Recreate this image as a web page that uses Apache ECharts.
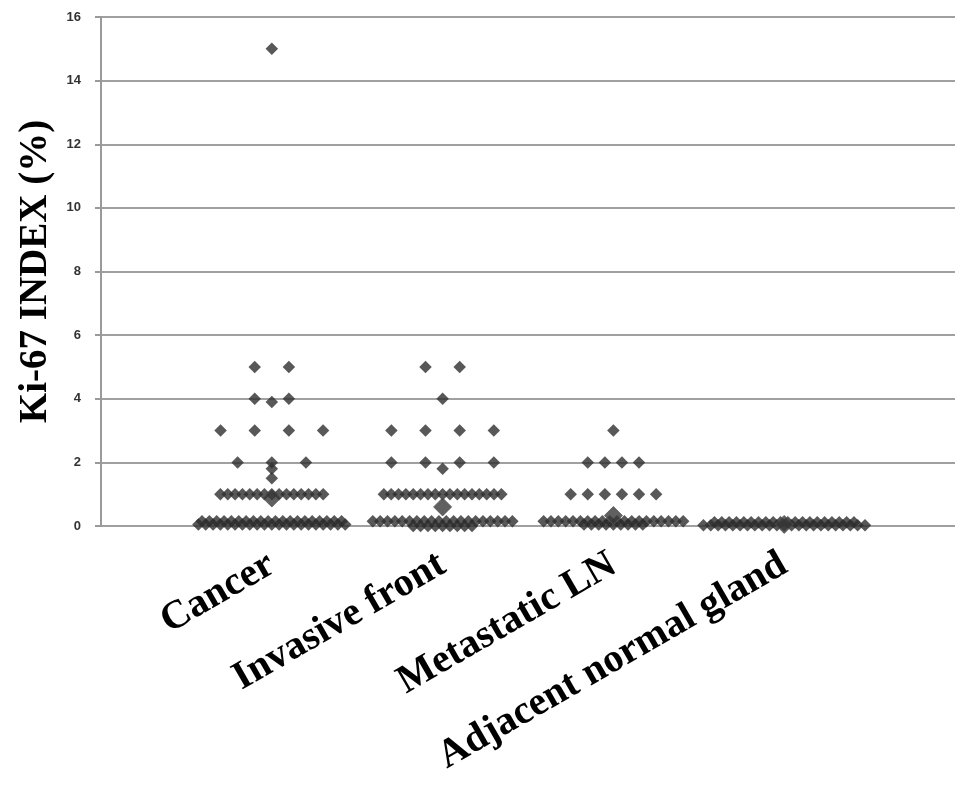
<!DOCTYPE html>
<html>
<head>
<meta charset="utf-8">
<script src="https://cdn.jsdelivr.net/npm/echarts@6/dist/echarts.min.js"></script>
<style>
html,body{margin:0;padding:0;background:#fff;}
#chart{width:969px;height:788px;}
</style>
</head>
<body>
<div id="chart"></div>
<script>
// ---- data ----
const categories = ['Cancer', 'Invasive front', 'Metastatic LN', 'Adjacent normal gland'];
const categoryPositions = [1, 2, 3, 4];
const yTickLabels = ['0', '2', '4', '6', '8', '10', '12', '14', '16'];

const cancerValues = [
  15,
  5, 5,
  4, 4, 3.9,
  3, 3, 3, 3,
  2, 2, 2,
  1.8, 1.5,
  1, 1, 1, 1, 1, 1, 1, 1, 1, 1, 1, 1, 1, 1, 1,
  0.15, 0.15, 0.15, 0.15, 0.15, 0.15, 0.15, 0.15, 0.15, 0.15,
  0.15, 0.15, 0.15, 0.15, 0.15, 0.15, 0.15, 0.15, 0.15, 0.15,
  0.05, 0.05, 0.05, 0.05, 0.05, 0.05, 0.05, 0.05, 0.05, 0.05, 0.05,
  0.05, 0.05, 0.05, 0.05, 0.05, 0.05, 0.05, 0.05, 0.05, 0.05
];
const invasiveValues = [
  5, 5,
  4,
  3, 3, 3, 3,
  2, 2, 2, 2,
  1.8,
  1, 1, 1, 1, 1, 1, 1, 1, 1, 1, 1, 1, 1, 1, 1, 1, 1,
  0.15, 0.15, 0.15, 0.15, 0.15, 0.15, 0.15, 0.15, 0.15, 0.15,
  0.15, 0.15, 0.15, 0.15, 0.15, 0.15, 0.15, 0.15, 0.15, 0.15,
  0, 0, 0, 0, 0, 0, 0, 0, 0
];
const metastaticValues = [
  3,
  2, 2, 2, 2,
  1, 1, 1, 1, 1, 1,
  0.15, 0.15, 0.15, 0.15, 0.15, 0.15, 0.15, 0.15, 0.15, 0.15,
  0.15, 0.15, 0.15, 0.15, 0.15, 0.15, 0.15, 0.15, 0.15, 0.15,
  0.05, 0.05, 0.05, 0.05, 0.05, 0.05, 0.05, 0.05, 0.05
];
const adjacentValues = [
  0.12, 0.12, 0.12, 0.12, 0.12, 0.12, 0.12, 0.12, 0.12, 0.12,
  0.12, 0.12, 0.12, 0.12, 0.12, 0.12, 0.12, 0.12, 0.12, 0.12,
  0.02, 0.02, 0.02, 0.02, 0.02, 0.02, 0.02, 0.02, 0.02, 0.02, 0.02,
  0.02, 0.02, 0.02, 0.02, 0.02, 0.02, 0.02, 0.02, 0.02, 0.02, 0.02, 0.02
];
const groupMeans = [0.88, 0.6, 0.33, 0.05];

// ---- layout (dot-plot spreading of equal values) ----
const groupValues = [cancerValues, invasiveValues, metastaticValues, adjacentValues];
const sparseStep = [0.2, 0.2, 0.1, 0.1];
const denseStep = 0.043;
const denseThreshold = 8;

function spread(values, center, step) {
  const counts = new Map();
  values.forEach(v => counts.set(v, (counts.get(v) || 0) + 1));
  const pts = [];
  counts.forEach((n, v) => {
    const s = n >= denseThreshold ? denseStep : step;
    for (let i = 0; i < n; i++) {
      pts.push([center + (i - (n - 1) / 2) * s, v]);
    }
  });
  return pts;
}

const markerColor = '#2e2e2e';
const series = groupValues.map((vals, gi) => ({
  type: 'scatter',
  name: categories[gi],
  symbol: 'diamond',
  symbolSize: 12.5,
  itemStyle: { color: markerColor },
  data: spread(vals, categoryPositions[gi], sparseStep[gi]),
  z: 2
}));
series.push({
  type: 'scatter',
  name: 'Mean',
  symbol: 'diamond',
  symbolSize: 18,
  itemStyle: { color: '#383838', borderColor: '#555', borderWidth: 1 },
  data: groupMeans.map((m, gi) => [categoryPositions[gi], m]),
  z: 3
});

const chart = echarts.init(document.getElementById('chart'), null, { renderer: 'canvas' });
chart.setOption({
  animation: false,
  backgroundColor: '#fff',
  grid: { left: 101, top: 17, right: 14, bottom: 262, containLabel: false },
  xAxis: {
    type: 'value',
    min: 0,
    max: 5,
    interval: 1,
    axisLine: { show: false },
    axisTick: { show: false },
    splitLine: { show: false },
    axisLabel: {
      showMinLabel: false,
      showMaxLabel: false,
      rotate: 30,
      margin: 36,
      fontFamily: 'Liberation Serif',
      fontWeight: 'bold',
      fontSize: 40,
      color: '#000',
      formatter: v => {
        const i = categoryPositions.indexOf(v);
        return i >= 0 ? categories[i] : '';
      }
    }
  },
  yAxis: {
    type: 'value',
    min: 0,
    max: 16,
    interval: 2,
    name: 'Ki-67 INDEX (%)',
    nameLocation: 'middle',
    nameGap: 44,
    nameTextStyle: {
      fontFamily: 'Liberation Serif',
      fontWeight: 'bold',
      fontSize: 39,
      color: '#000'
    },
    axisLine: { show: true, lineStyle: { color: '#9a9a9a', width: 2 } },
    axisTick: { show: true, length: 6, lineStyle: { color: '#9a9a9a', width: 2 } },
    splitLine: { show: true, lineStyle: { color: '#a0a0a0', width: 2 } },
    axisLabel: {
      margin: 20,
      fontFamily: 'Liberation Sans',
      fontWeight: 'bold',
      fontSize: 13,
      color: '#333',
      formatter: v => yTickLabels[v / 2]
    }
  },
  series: series
});
</script>
</body>
</html>
